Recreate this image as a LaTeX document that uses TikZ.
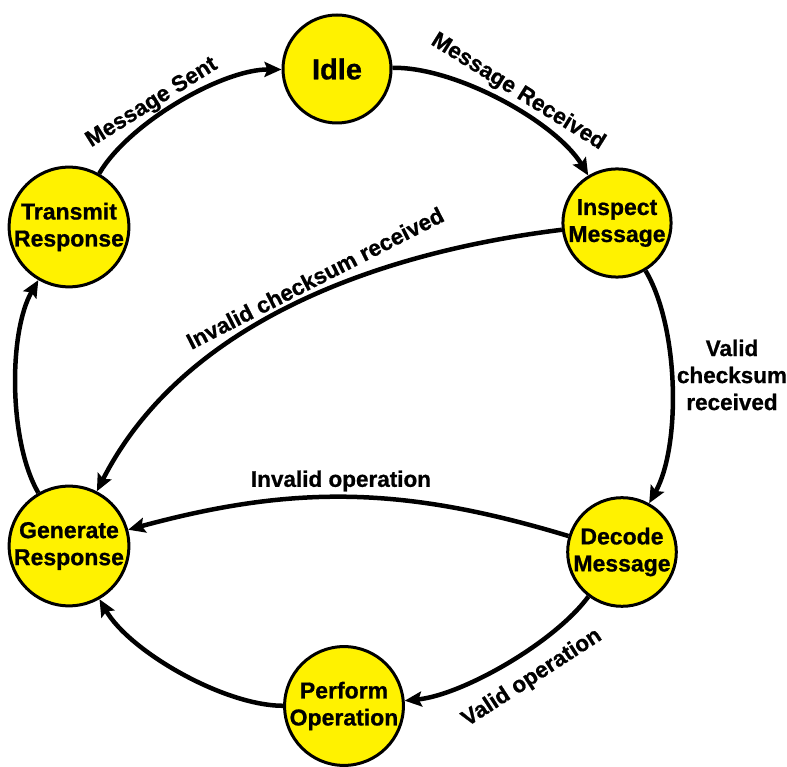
\documentclass[tikz,border=0pt]{standalone}
\usepackage{fontspec}
\setmainfont[BoldFeatures={FakeBold=0.8}]{Liberation Sans}
\usetikzlibrary{arrows.meta}
\begin{document}
\begin{tikzpicture}[x=1pt,y=1pt,
  state/.style={circle,draw=black,line width=3pt,fill=yellow,minimum size=108pt,inner sep=0pt,align=center,font=\bfseries\fontsize{23}{27}\selectfont},
  edge/.style={line width=4.5pt,-{Stealth[length=17pt,width=15pt,inset=3pt]}},
  ring/.style={edge,bend left=30,looseness=0.72},
  lbl/.style={font=\bfseries\fontsize{22.5}{27}\selectfont,align=center,inner sep=0pt}]
\useasboundingbox (0,0) rectangle (787,766);
\node[state] (idle) at (337,697) {\fontsize{29}{34}\selectfont Idle};
\node[state] (inspect) at (617,543) {Inspect\\Message};
\node[state] (decode) at (622,214) {Decode\\Message};
\node[state] (perform) at (344,60) {Perform\\Operation};
\node[state] (generate) at (69,220) {Generate\\Response};
\node[state] (transmit) at (69,539) {Transmit\\Response};

\node[lbl,rotate=32] (lsent) at (152,663) {Message Sent};
\node[lbl,rotate=-32] (lrec) at (518,674) {Message Received};
\node[lbl] (lvcs) at (732,391) {Valid\\checksum\\received};
\node[lbl,rotate=27] (lics) at (315,488) {Invalid checksum received};
\node[lbl] (lio) at (341,285) {Invalid operation};
\node[lbl,rotate=33] (lvo) at (532,88) {Valid operation};

\draw[ring] (transmit) to (idle);
\draw[ring] (idle) to (inspect);
\draw[ring] (inspect) to (decode);
\draw[ring,bend left=24,looseness=0.7] (decode) to (perform);
\draw[ring] (perform) to (generate);
\draw[ring] (generate) to (transmit);
\draw[edge] (inspect) to[out=187,in=63,looseness=0.9] (generate);
\draw[edge] (decode) to[bend right=16] (generate);
\end{tikzpicture}
\end{document}
